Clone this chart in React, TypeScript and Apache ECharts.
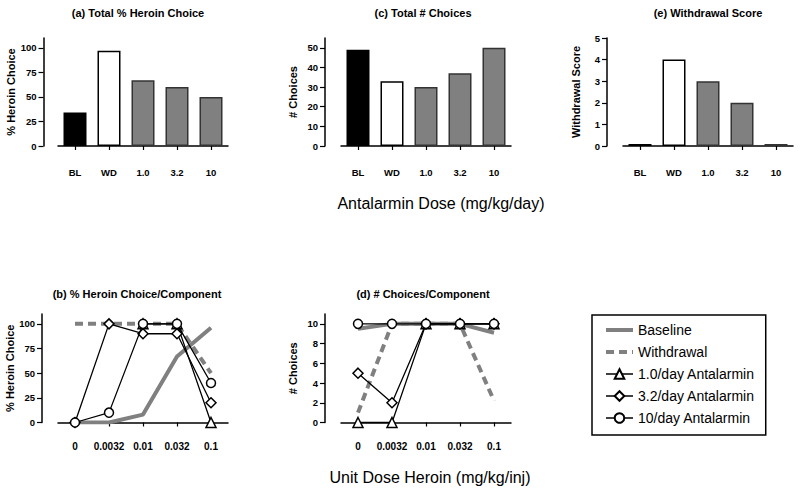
import React, { useEffect, useRef } from "react";
import * as echarts from "echarts";

const topCategories = ["BL", "WD", "1.0", "3.2", "10"];
const heroinChoiceTotal = [34, 97, 67, 60, 50];
const totalChoices = [49, 33, 30, 37, 50];
const withdrawalScore = [0, 4, 3, 2, 0];

const unitDoses = ["0", "0.0032", "0.01", "0.032", "0.1"];
const pctBaseline = [0, 0, 8, 67, 96];
const pctWithdrawal = [100, 100, 100, 100, 50];
const pctAnt1 = [null, null, 100, 100, 0];
const pctAnt32 = [0, 100, 90, 90, 20];
const pctAnt10 = [0, 10, 100, 100, 40];

const numBaseline = [9.5, 10, 10, 10, 9.1];
const numWithdrawal = [1, 10, 10, 10, 2.2];
const numAnt1 = [0, 0, 10, 10, 10];
const numAnt32 = [5, 2, 10, 10, 10];
const numAnt10 = [10, 10, 10, 10, 10];

const seriesNames = ["Baseline", "Withdrawal", "1.0/day Antalarmin", "3.2/day Antalarmin", "10/day Antalarmin"];

const FONT = "'Liberation Sans', Arial, Helvetica, sans-serif";
const GRAY = "#808080";

const barStyles = [
  { color: "#000", borderColor: "#000", borderWidth: 1.5 },
  { color: "#fff", borderColor: "#000", borderWidth: 1.5 },
  { color: GRAY, borderColor: "#333", borderWidth: 1.5 },
  { color: GRAY, borderColor: "#333", borderWidth: 1.5 },
  { color: GRAY, borderColor: "#333", borderWidth: 1.5 },
];

function range(a: number, b: number, s: number) {
  const r: number[] = [];
  for (let v = a; v <= b + 1e-9; v += s) r.push(v);
  return r;
}

export default function App() {
  const ref = useRef<HTMLDivElement>(null);
  useEffect(() => {
    if (!ref.current) return;
    const chart = echarts.init(ref.current, null, { renderer: "svg" });

    const grids = [
      { left: 58, top: 38, width: 170, height: 108 },
      { left: 341, top: 38, width: 170, height: 108 },
      { left: 623, top: 38, width: 170, height: 108 },
      { left: 58, top: 314, width: 170, height: 108.5 },
      { left: 341, top: 314, width: 170, height: 108.5 },
    ];

    const xAxis = grids.map((g, i) => ({
      type: "category",
      gridIndex: i,
      data: i < 3 ? topCategories : unitDoses,
      boundaryGap: true,
      offset: i < 3 ? 17 : 14.5,
      axisLine: { show: true, lineStyle: { color: "#000", width: 1.5 } },
      axisTick: { show: true, alignWithLabel: true, interval: 0, length: 4, lineStyle: { color: "#000", width: 1.2 } },
      axisLabel: { color: "#000", fontFamily: FONT, fontWeight: "bold", fontSize: i < 3 ? 9.5 : 10, margin: 4, interval: 0 },
      splitLine: { show: false },
    }));

    const yCfg = [
      { max: 110, ticks: range(0, 100, 25), name: "% Heroin Choice", gap: 27, offset: 14.5 },
      { max: 55, ticks: range(0, 50, 10), name: "# Choices", gap: 27, offset: 16 },
      { max: 5, ticks: range(0, 5, 1), name: "Withdrawal Score", gap: 26, offset: 16 },
      { max: 110, ticks: range(0, 100, 25), name: "% Heroin Choice", gap: 24, offset: 16 },
      { max: 11, ticks: range(0, 10, 2), name: "# Choices", gap: 27, offset: 16 },
    ];

    const yAxis = yCfg.map((c, i) => ({
      type: "value",
      gridIndex: i,
      min: 0,
      max: c.max,
      offset: c.offset,
      name: c.name,
      nameLocation: "middle",
      nameRotate: 90,
      nameGap: c.gap,
      nameTextStyle: { color: "#000", fontFamily: FONT, fontWeight: "bold", fontSize: 11 },
      axisLine: { show: true, lineStyle: { color: "#000", width: 1.5 } },
      axisTick: { show: true, length: 5, customValues: c.ticks, lineStyle: { color: "#000", width: 1.2 } },
      axisLabel: { color: "#000", fontFamily: FONT, fontWeight: "bold", fontSize: 9.5, margin: 7, customValues: c.ticks },
      splitLine: { show: false },
    }));

    const bar = (data: number[], i: number) => ({
      type: "bar",
      xAxisIndex: i,
      yAxisIndex: i,
      barWidth: 23,
      barMinHeight: 2,
      data: data.map((v, k) => ({ value: v, itemStyle: barStyles[k] })),
    });

    const lineSeries = (vals: (number | null)[], i: number, k: number) => {
      const name = seriesNames[k];
      const base: any = {
        type: "line",
        name,
        xAxisIndex: i,
        yAxisIndex: i,
        data: vals,
        connectNulls: false,
      };
      if (k === 0) {
        base.symbol = "none";
        base.lineStyle = { color: GRAY, width: 4 };
        base.itemStyle = { color: GRAY };
      } else if (k === 1) {
        base.symbol = "none";
        base.lineStyle = { color: GRAY, width: 4, type: [8, 5] };
        base.itemStyle = { color: GRAY };
      } else {
        base.symbol = k === 2 ? "triangle" : k === 3 ? "diamond" : "circle";
        base.symbolSize = k === 4 ? 9 : 10;
        base.showAllSymbol = true;
        base.lineStyle = { color: "#000", width: 1.3 };
        base.itemStyle = { color: "#fff", borderColor: "#000", borderWidth: 1.5 };
        base.z = 3 + k;
      }
      return base;
    };

    const pctSets = [pctBaseline, pctWithdrawal, pctAnt1, pctAnt32, pctAnt10];
    const numSets = [numBaseline, numWithdrawal, numAnt1, numAnt32, numAnt10];

    const titleStyle = { color: "#000", fontFamily: FONT, fontWeight: "bold", fontSize: 11 };
    const titles = [
      { text: "(a) Total % Heroin Choice", left: 138, top: 7 },
      { text: "(c) Total # Choices", left: 423, top: 7 },
      { text: "(e) Withdrawal Score", left: 708, top: 7 },
      { text: "(b) % Heroin Choice/Component", left: 137, top: 288 },
      { text: "(d) # Choices/Component", left: 423, top: 288 },
    ].map((t) => ({ ...t, textAlign: "center", padding: 0, textStyle: titleStyle }));

    const legendData = seriesNames.map((n, k) =>
      k < 2
        ? { name: n, itemStyle: { opacity: 0, borderWidth: 0 }, lineStyle: { width: 4, color: GRAY, type: k === 1 ? [8, 5] : "solid" } }
        : { name: n, lineStyle: { width: 1.5, color: "#000" } }
    );

    chart.setOption({
      animation: false,
      backgroundColor: "#fff",
      title: titles,
      grid: grids,
      xAxis,
      yAxis,
      legend: {
        orient: "vertical",
        left: 592,
        top: 315,
        data: legendData,
        itemWidth: 27,
        itemHeight: 12,
        itemGap: 8,
        padding: [8, 11, 10, 12],
        borderColor: "#000",
        borderWidth: 1.5,
        selectedMode: false,
        lineStyle: { width: "inherit" },
        textStyle: { color: "#000", fontFamily: FONT, fontSize: 14 },
      },
      graphic: [
        {
          type: "text",
          x: 441,
          y: 203,
          style: { text: "Antalarmin Dose (mg/kg/day)", fill: "#000", font: `16px ${FONT}`, textAlign: "center", textVerticalAlign: "middle" },
        },
        {
          type: "text",
          x: 430,
          y: 477,
          style: { text: "Unit Dose Heroin (mg/kg/inj)", fill: "#000", font: `16px ${FONT}`, textAlign: "center", textVerticalAlign: "middle" },
        },
      ],
      series: [
        bar(heroinChoiceTotal, 0),
        bar(totalChoices, 1),
        bar(withdrawalScore, 2),
        ...pctSets.map((d, k) => lineSeries(d, 3, k)),
        ...numSets.map((d, k) => lineSeries(d, 4, k)),
      ],
    });
    return () => chart.dispose();
  }, []);
  return <div ref={ref} style={{ width: 800, height: 494, position: "absolute", left: 0, top: 0 }} />;
}
